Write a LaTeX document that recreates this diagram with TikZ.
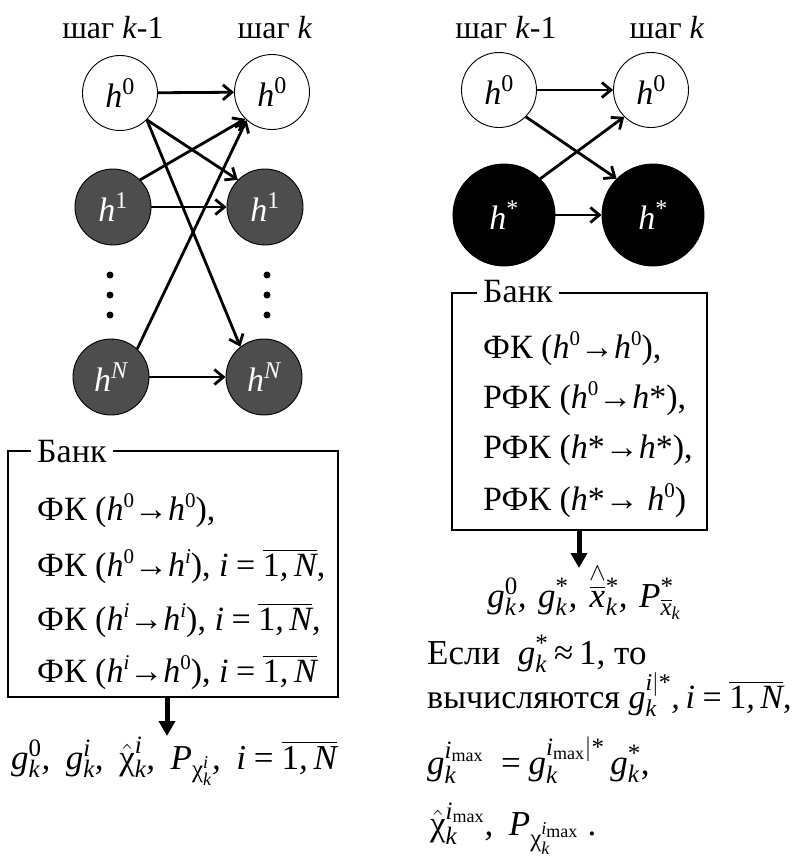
\RequirePackage{fix-cm}
\documentclass[tikz,border=0pt]{standalone}
\usepackage{amsmath}
\usepackage{fontspec}
\setmainfont{Liberation Serif}
\DeclareSymbolFont{letters}{TU}{\rmdefault}{m}{it}
\DeclareSymbolFont{operators}{TU}{\rmdefault}{m}{n}
\mathcode`\,="612C
\mathcode`\.="012E
\DeclareMathSizes{32}{32}{22}{16}
\DeclareMathSizes{33}{33}{23}{17}
\DeclareMathSizes{34}{34}{24}{17}
\DeclareMathSizes{35}{35}{25}{18}
\usetikzlibrary{arrows.meta}
\definecolor{nodegray}{HTML}{4D4D4D}
\newcommand\stx{\text{*}}
\newcommand\chix{\text{χ}}
\newcommand\zr{\text{0}}
\newcommand\one{\text{1}}
\newcommand\eqx{\mathrel{\mkern-1mu\text{=}\mkern-1mu}}
\newcommand\apx{\mathrel{\mkern-2mu\text{≈}\mkern-2mu}}
\newcommand\mx{\text{max}}
\newcommand\ovl{\overline{\one,N}}
\newcommand\sups[1]{\raisebox{0.38em}{\fontsize{21}{21}\selectfont #1}}
\tikzset{
  txt/.style={font=\fontsize{34}{40}\selectfont, inner sep=0pt},
  labtxt/.style={font=\fontsize{32}{38}\selectfont, inner sep=0pt, anchor=base},
  mtxt/.style={font=\fontsize{35}{41}\selectfont, inner sep=0pt},
  mtxtsm/.style={font=\fontsize{34}{40}\selectfont, inner sep=0pt},
  hnode/.style={circle, draw=black, line width=0.9pt, inner sep=0pt, font=\fontsize{34}{40}\selectfont},
  wnode/.style={hnode, fill=white, minimum size=75pt},
  gnode/.style={hnode, fill=nodegray, text=white, minimum size=76pt},
  bnode/.style={hnode, fill=black, text=white, minimum size=102pt},
  conn/.style={line width=2.8pt, -{Straight Barb[length=9pt,width=15pt]}},
  outarrow/.style={line width=5pt, -{Triangle[length=15pt,width=16pt]}},
  bank/.style={draw=black, line width=1.2pt},
  banktitle/.style={txt, fill=white, inner xsep=6pt, anchor=base west},
  dotc/.style={circle, fill=black, inner sep=0pt, minimum size=7pt}
}
\begin{document}
\begin{tikzpicture}[x=1pt, y=-1pt]
\useasboundingbox (0,0) rectangle (796,862);

% ---------- left panel ----------
\node[labtxt] (lab1) at (113,38) {шаг \textit{k}-1};
\node[labtxt] (lab2) at (275,38) {шаг \textit{k}};

\node[wnode] (L0a) at (120,93) {$h^{\zr}$};
\node[wnode] (L0b) at (272,92) {$h^{\zr}$};
\node[gnode] (L1a) at (113,207) {$h^{\one}$};
\node[gnode] (L1b) at (265,207) {$h^{\one}$};
\node[gnode] (LNa) at (111,377) {$h^N$};
\node[gnode] (LNb) at (264,377) {$h^N$};

\foreach \yy/\nn in {275/1,295/2,315/3}{
  \node[dotc] (ld\nn) at (110,\yy) {};
  \node[dotc] (rd\nn) at (267,\yy) {};
}

\draw[conn] (L0a) -- (L0b);
\draw[conn] (L1a) -- (L1b);
\draw[conn] (LNa) -- (LNb);
\draw[conn] (L0a.-45) -- (L1b.135);
\draw[conn] (L0a.-45) -- (LNb.128);
\draw[conn] (L1a.45) -- (L0b.225);
\draw[conn] (LNa.47) -- (L0b.228);

\draw[bank] (8,451) rectangle (338,697);
\coordinate (lboxb) at (167,697);
\node[banktitle] (lbt) at (31,462) {Банк};
\node[txt, anchor=base west] (lb1) at (37,520) {ФК (\textit{h}\sups{0}→\textit{h}\sups{0}),};
\node[txt, anchor=base west] (lb2) at (37,576) {ФК (\textit{h}\sups{0}→\textit{h}\sups{\textit{i}}), $i\eqx\ovl$,};
\node[txt, anchor=base west] (lb3) at (37,630) {ФК (\textit{h}\sups{\textit{i}}→\textit{h}\sups{\textit{i}}), $i\eqx\ovl$,};
\node[txt, anchor=base west] (lb4) at (37,682) {ФК (\textit{h}\sups{\textit{i}}→\textit{h}\sups{0}), $i\eqx\ovl$};

\node[mtxt, anchor=base] (lout) at (174,769) {$g_k^{\zr},\; g_k^i,\; \hat{\chix}_k^i,\; P_{\chix_k^i},\; i\eqx\ovl$};
\coordinate (loutt) at (167,736);
\draw[outarrow] (lboxb) -- (loutt);

% ---------- right panel ----------
\node[labtxt] (rlab1) at (506,38) {шаг \textit{k}-1};
\node[labtxt] (rlab2) at (667,38) {шаг \textit{k}};

\node[wnode] (R0a) at (499,90) {$h^{\zr}$};
\node[wnode] (R0b) at (651,90) {$h^{\zr}$};
\node[bnode] (RSa) at (504,215) {$h^{\stx}$};
\node[bnode] (RSb) at (653,215) {$h^{\stx}$};

\draw[conn] (R0a) -- (R0b);
\draw[conn] (RSa) -- (RSb);
\draw[conn] (R0a.-45) -- (RSb.135);
\draw[conn] (RSa.45) -- (R0b.225);

\draw[bank] (452,293) rectangle (707,530);
\coordinate (rboxb) at (579,530);
\node[banktitle] (rbt) at (477,302) {Банк};
\node[txt, anchor=base west] (rb1) at (483,358) {ФК (\textit{h}\sups{0}→\textit{h}\sups{0}),};
\node[txt, anchor=base west] (rb2) at (483,408) {РФК (\textit{h}\sups{0}→\textit{h}*),};
\node[txt, anchor=base west] (rb3) at (483,458) {РФК (\textit{h}*→\textit{h}*),};
\node[txt, anchor=base west] (rb4) at (483,510) {РФК (\textit{h}*→ \textit{h}\sups{0})};

\node[mtxt, anchor=base] (rout) at (584,607) {$g_k^{\zr},\, g_k^{\stx},\, \overset{\wedge}{\overline{x}}{}^{\stx}_k,\, P^{\stx}_{\overline{x}_k}$};
\coordinate (routt) at (579,568);
\draw[outarrow] (rboxb) -- (routt);

\node[mtxt, anchor=base west] (r2) at (427,664) {Если\ \ $g_k^{\stx}\apx \one$, то};
\node[mtxtsm, anchor=base west] (r3) at (427,708) {вычисляются $g_k^{i|\stx}, i\eqx\ovl$,};
\node[mtxt, anchor=base west] (r4) at (427,774) {$g_k^{i_{\mx}}\; \eqx g_k^{i_{\mx}|\stx}\, g_k^{\stx}$,};
\node[mtxt, anchor=base west] (r5) at (430,835) {$\hat{\chix}_k^{i_{\mx}},\; P_{\chix_k^{i_{\mx}}}$ .};
\end{tikzpicture}
\end{document}
